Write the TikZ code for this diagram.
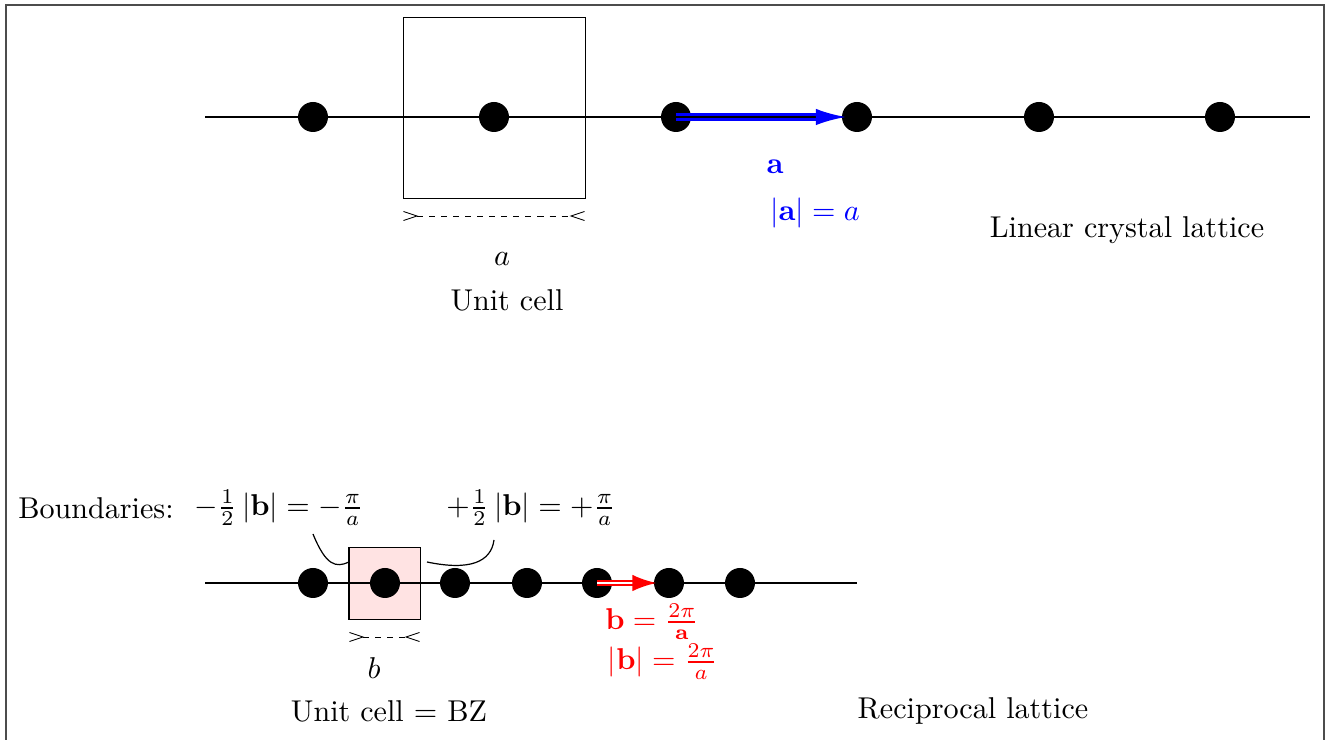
\documentclass[tikz,border=0pt]{standalone}
\usetikzlibrary{arrows.meta}
\begin{document}
\begin{tikzpicture}[x=0.332pt,y=-0.332pt,
  dot/.style={circle,fill=black,inner sep=0pt,minimum size=9.96pt},
  axis/.style={line width=0.5pt},
  cellbox/.style={draw=black,line width=0.3pt,inner sep=0pt},
  dim/.style={line width=0.3pt,dash pattern=on 2pt off 2pt,
    {Straight Barb[reversed,length=4.5pt,width=3pt]}-{Straight Barb[reversed,length=4.5pt,width=3pt]}},
  lbl/.style={inner sep=0pt},
  curve/.style={line width=0.4pt}]
\useasboundingbox (0,0) rectangle (1335,740);
\clip (0,0) rectangle (1335,740);
\draw[black!70,line width=0.5pt] (6,5) rectangle (1324,760);

% ---- linear crystal lattice ----
\coordinate (la) at (205,117);
\coordinate (lb) at (1310,117);
\draw[axis] (la) -- (lb);
\node[cellbox,minimum width=60.4pt,minimum height=60.1pt] (cell) at (494,107.5) {};
\foreach \i/\x in {1/313,2/494,3/676,4/857,5/1039,6/1220}
  \node[dot] (d\i) at (\x,117) {};
\coordinate (c1) at (403,216);
\coordinate (c2) at (585,216);
\draw[dim] (c1) -- (c2);
\node[lbl] (alab) at (502,259) {$a$};
\node[lbl] (uc) at (507,300) {Unit cell};
\draw[blue,line width=0.9pt,double=black,double distance=0.7pt,shorten >=-1.5pt,-{Latex[length=10pt,width=5.5pt]}] (d3.center) -- (d4);
\node[lbl,text=blue] (va) at (775,167) {$\mathbf{a}$};
\node[lbl,text=blue] (vam) at (815,213) {$|\mathbf{a}| = a$};
\node[lbl] (lcl) at (1127,230) {Linear crystal lattice};

% ---- reciprocal lattice ----
\coordinate (ra) at (205,583);
\coordinate (rb) at (857,583);
\node[cellbox,fill=red!11,minimum width=23.6pt,minimum height=23.6pt] (bz) at (384.5,583.5) {};
\draw[axis] (ra) -- (rb);
\draw[black,line width=0.3pt] (bz.north west) rectangle (bz.south east);
\foreach \i/\x in {1/313,2/385,3/455,4/527,5/597,6/669,7/740}
  \node[dot] (r\i) at (\x,583) {};
\coordinate (e1) at (349,637);
\coordinate (e2) at (420,637);
\draw[dim] (e1) -- (e2);
\node[lbl] (blab) at (374,668) {$b$};
\node[lbl] (ucbz) at (389,711) {Unit cell = BZ};
\node[lbl] (rl) at (973,711) {Reciprocal lattice};
\draw[red,line width=0.7pt,double=white,double distance=0.5pt,shorten >=-1pt,-{Latex[length=8pt,width=5.5pt]}] (r5.center) -- (r6);
\node[lbl,text=red] (vb) at (652,622) {$\mathbf{b} = \frac{2\pi}{\mathbf{a}}$};
\node[lbl,text=red] (vbm) at (663,662) {$|\mathbf{b}| = \frac{2\pi}{a}$};

\node[lbl] (bd) at (96,508) {Boundaries:};
\node[lbl] (bl) at (279,508) {$-\frac{1}{2}\,|\mathbf{b}| = -\frac{\pi}{a}$};
\node[lbl] (br) at (531,508) {$+\frac{1}{2}\,|\mathbf{b}| = +\frac{\pi}{a}$};
\coordinate (bl1) at (313,534);
\coordinate (bl2) at (349,562);
\coordinate (br1) at (494,540);
\coordinate (br2) at (427,562);
\draw[curve] (bl1) .. controls (326,566) and (336,568) .. (bl2);
\draw[curve] (br2) .. controls (470,571) and (491,562) .. (br1);
\end{tikzpicture}
\end{document}
